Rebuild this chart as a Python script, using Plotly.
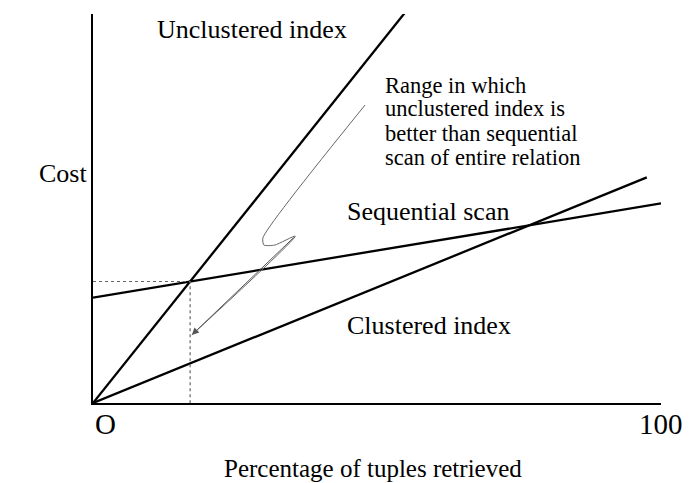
import plotly.graph_objects as go

# Percentage of tuples retrieved (x) against access cost (y, arbitrary units)
seq_x = [0, 100]
seq_cost = [27.1, 51.3]

unclustered_x = [0, 54.9]
unclustered_cost = [0, 100.3]

clustered_x = [0, 97.5]
clustered_cost = [0, 58.0]

# Hand-drawn pointer from the note down to the break-even range
pointer_x = [47.9, 29.9, 30.1, 32.0, 35.6, 17.4]
pointer_y = [76.6, 42.4, 40.6, 40.6, 42.9, 17.5]

x_tick_vals = [0, 100]
x_tick_text = ["O", "100"]

note_lines = [
    "Range in which",
    "unclustered index is",
    "better than sequential",
    "scan of entire relation",
]

SERIF = "Liberation Serif, Times New Roman, serif"


def slope(xs, ys):
    return (ys[1] - ys[0]) / (xs[1] - xs[0])


# Break-even point: where unclustered index cost meets the sequential scan
m_u = slope(unclustered_x, unclustered_cost)
m_s = slope(seq_x, seq_cost)
x_be = (seq_cost[0] - unclustered_cost[0]) / (m_u - m_s)
y_be = unclustered_cost[0] + m_u * x_be

fig = go.Figure()

line_style = dict(color="black", width=2.3)
for xs, ys in [(unclustered_x, unclustered_cost), (seq_x, seq_cost), (clustered_x, clustered_cost)]:
    fig.add_trace(go.Scatter(x=xs, y=ys, mode="lines", line=line_style,
                             hoverinfo="skip", showlegend=False, cliponaxis=False))

# Dotted guides marking the break-even percentage
fig.add_trace(go.Scatter(x=[0, x_be, x_be], y=[y_be, y_be, 0], mode="lines",
                         line=dict(color="#666666", width=1.2, dash="dot"),
                         hoverinfo="skip", showlegend=False))

# Pointer stroke
fig.add_trace(go.Scatter(x=pointer_x, y=pointer_y, mode="lines",
                         line=dict(color="#666666", width=1, shape="spline", smoothing=0.6),
                         hoverinfo="skip", showlegend=False))

annotations = []
annotations.append(dict(x=pointer_x[-1], y=pointer_y[-1], ax=pointer_x[-2], ay=pointer_y[-2],
                        xref="x", yref="y", axref="x", ayref="y", text="",
                        showarrow=True, arrowhead=2, arrowsize=1.4, arrowwidth=1,
                        arrowcolor="#555555"))


def label(text, x, y, size, xanchor="left", xref="paper", yref="paper"):
    annotations.append(dict(text=text, x=x, y=y, xref=xref, yref=yref,
                            xanchor=xanchor, yanchor="middle", showarrow=False,
                            font=dict(family=SERIF, size=size, color="black")))


W, H = 694, 483
L, R, T, B = 93, 33, 14, 80
pw, ph = W - L - R, H - T - B


def px(xp):
    return (xp - L) / pw


def py(yp):
    return (H - B - yp) / ph


label("Unclustered index", px(155), py(30), 26)
label("Cost", px(37), py(173), 26)
label("Sequential scan", px(345), py(212), 26)
label("Clustered index", px(345), py(325), 26)
for i, t in enumerate(note_lines):
    label(t, px(383), py(85 + 24 * i), 22.5)

# Axis tick labels and axis title
for v, t in zip(x_tick_vals, x_tick_text):
    annotations.append(dict(text=t, x=v, y=py(424), xref="x", yref="paper",
                            xanchor="left" if v == 0 else "center", yanchor="middle",
                            showarrow=False,
                            font=dict(family=SERIF, size=29, color="black")))
label("Percentage of tuples retrieved", 0.5 * (px(228) + px(517)), py(468), 25, xanchor="center")

fig.update_layout(
    width=W, height=H,
    margin=dict(l=L, r=R, t=T, b=B, pad=0),
    paper_bgcolor="white", plot_bgcolor="white",
    annotations=annotations,
    xaxis=dict(range=[0, 100], showgrid=False, zeroline=False, showticklabels=False,
               ticks="", showline=True, linecolor="black", linewidth=1.5, fixedrange=True),
    yaxis=dict(range=[0, 100], showgrid=False, zeroline=False, showticklabels=False,
               ticks="", showline=True, linecolor="black", linewidth=1.5, fixedrange=True),
)

fig.write_html("out.html")
